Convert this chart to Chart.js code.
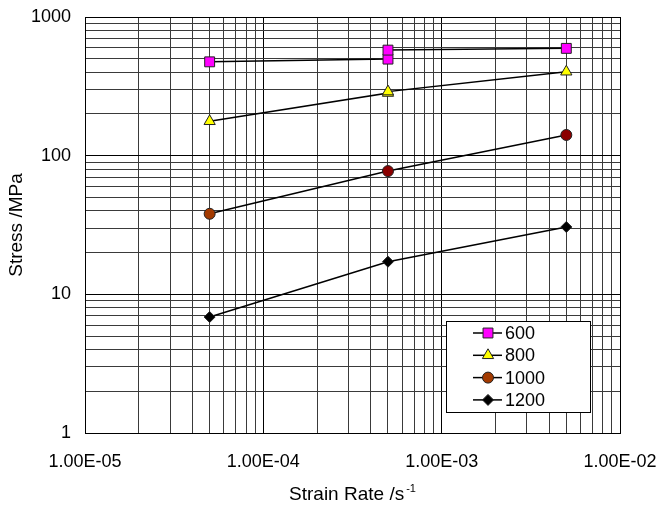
<!DOCTYPE html>
<html>
<head>
<meta charset="utf-8">
<script src="https://cdn.jsdelivr.net/npm/chart.js@4.4.0/dist/chart.umd.min.js"></script>
<style>
html, body { margin: 0; padding: 0; background: #fff; }
#wrap { width: 658px; height: 508px; }
</style>
</head>
<body>
<div id="wrap"><canvas id="stressChart"></canvas></div>
<script>
// legend labels (temperatures)
var temps = ['600', '800', '1000', '1200'];

// strain rate (x) and stress (y)
var rate600 = [5e-5, 5e-4, 5e-4, 5e-3];
var stress600 = [475, 497, 577, 594];
var rate800 = [5e-5, 5e-4, 5e-4, 5e-3];
var stress800 = [177, 283, 290, 403];
var rate1000 = [5e-5, 5e-4, 5e-3];
var stress1000 = [38.1, 77.4, 141];
var rate1200 = [5e-5, 5e-4, 5e-3];
var stress1200 = [6.86, 17.2, 30.6];

// axis tick labels (decades) and the minor steps inside one decade
var xTickLabels = ['1.00E-05', '1.00E-04', '1.00E-03', '1.00E-02'];
var yTickLabels = ['1', '10', '100', '1000'];
var minorSteps = [1, 2, 3, 4, 5, 6, 7, 8, 9];

var FONT = '"Liberation Sans", Arial, sans-serif';

function toPoints(xs, ys) {
    var pts = [];
    for (var i = 0; i < xs.length; i++) {
        pts.push({ x: xs[i], y: ys[i] });
    }
    return pts;
}

// full log grid: 1..9 in every decade
function logTicks(labels) {
    var decades = labels.map(function (l) { return parseFloat(l); });
    var ticks = [];
    for (var d = 0; d < decades.length - 1; d++) {
        minorSteps.forEach(function (m) {
            ticks.push({ value: decades[d] * m, major: m === 1 });
        });
    }
    ticks.push({ value: decades[decades.length - 1], major: true });
    return ticks;
}

function labelFor(labels) {
    var decades = labels.map(function (l) { return parseFloat(l); });
    return function (value) {
        for (var k = 0; k < decades.length; k++) {
            if (Math.abs(value - decades[k]) / decades[k] < 1e-6) return labels[k];
        }
        return '';
    };
}

function gridColor(ctx) {
    return ctx.tick && ctx.tick.major ? '#000' : '#3a3a3a';
}

// legend box with a line through each marker
var legendBox = {
    id: 'legendBox',
    afterDatasetsDraw: function (chart) {
        var ctx = chart.ctx, area = chart.chartArea;
        var w = 144, h = 91;
        var x0 = Math.round(area.right - 30 - w), y0 = Math.round(area.bottom - 21 - h);
        ctx.save();
        ctx.fillStyle = '#fff';
        ctx.fillRect(x0, y0, w, h);
        ctx.strokeStyle = '#000';
        ctx.lineWidth = 1;
        ctx.strokeRect(x0 + 0.5, y0 + 0.5, w, h);
        chart.data.datasets.forEach(function (ds, i) {
            var cy = y0 + 12 + i * 22.3;
            ctx.strokeStyle = '#000';
            ctx.lineWidth = 1.5;
            ctx.beginPath();
            ctx.moveTo(x0 + 27, cy);
            ctx.lineTo(x0 + 56, cy);
            ctx.stroke();
            var bg = Array.isArray(ds.pointBackgroundColor) ? ds.pointBackgroundColor[0] : ds.pointBackgroundColor;
            ctx.fillStyle = bg;
            ctx.strokeStyle = ds.pointBorderColor;
            ctx.lineWidth = 1;
            Chart.helpers.drawPoint(ctx, {
                pointStyle: ds.pointStyle,
                radius: ds.pointRadius,
                borderWidth: 1,
                rotation: 0
            }, x0 + 42, cy);
            ctx.fillStyle = '#000';
            ctx.font = '18px ' + FONT;
            ctx.textBaseline = 'middle';
            ctx.textAlign = 'left';
            ctx.fillText(ds.label, x0 + 59, cy + 1);
        });
        ctx.restore();
    }
};

// x title with a raised "-1"
var xTitle = {
    id: 'xTitle',
    afterDraw: function (chart) {
        var ctx = chart.ctx, area = chart.chartArea;
        var main = 'Strain Rate /s', sup = '-1';
        ctx.save();
        ctx.fillStyle = '#000';
        ctx.textBaseline = 'alphabetic';
        ctx.textAlign = 'left';
        ctx.font = '19px ' + FONT;
        var wMain = ctx.measureText(main).width;
        ctx.font = '11px ' + FONT;
        var wSup = ctx.measureText(sup).width;
        var x = (area.left + area.right) / 2 - (wMain + wSup + 2) / 2;
        var base = 500;
        ctx.font = '19px ' + FONT;
        ctx.fillText(main, x, base);
        ctx.font = '11px ' + FONT;
        ctx.fillText(sup, x + wMain + 2, base - 8);
        ctx.restore();
    }
};

var series = [
    { pts: toPoints(rate600, stress600), style: 'rect', r: 7, bg: ['#ff00ff', '#ff00ff', '#ff00ff', '#ff00ff'] },
    { pts: toPoints(rate800, stress800), style: 'triangle', r: 6.5, bg: ['#ffff00', '#ffff00', '#ffff00', '#ffff00'] },
    { pts: toPoints(rate1000, stress1000), style: 'circle', r: 5.5, bg: ['#a33a00', '#8b0000', '#8b0000'] },
    { pts: toPoints(rate1200, stress1200), style: 'rectRot', r: 5.5, bg: ['#000', '#000', '#000'] }
];

var datasets = series.map(function (s, i) {
    return {
        label: temps[i],
        data: s.pts,
        showLine: true,
        borderColor: '#000',
        borderWidth: 1.5,
        pointStyle: s.style,
        pointRadius: s.r,
        pointHoverRadius: s.r,
        pointBackgroundColor: s.bg,
        pointBorderColor: '#222',
        pointBorderWidth: 1
    };
});

new Chart(document.getElementById('stressChart'), {
    type: 'scatter',
    data: { datasets: datasets },
    plugins: [legendBox, xTitle],
    options: {
        responsive: true,
        maintainAspectRatio: false,
        animation: false,
        layout: { padding: { left: 0, right: 38, top: 17, bottom: 0 } },
        plugins: {
            legend: { display: false },
            tooltip: { enabled: false }
        },
        scales: {
            x: {
                type: 'logarithmic',
                min: 1e-5,
                max: 1e-2,
                afterBuildTicks: function (scale) { scale.ticks = logTicks(xTickLabels); },
                afterFit: function (scale) {
                    scale.height = 75;
                    scale.paddingLeft = 0;
                    scale.paddingRight = 0;
                },
                grid: { color: gridColor, lineWidth: 1, drawTicks: false },
                border: { display: true, color: '#000', width: 1 },
                ticks: {
                    autoSkip: false,
                    maxRotation: 0,
                    padding: 18,
                    color: '#000',
                    font: { family: FONT, size: 18 },
                    callback: labelFor(xTickLabels)
                }
            },
            y: {
                type: 'logarithmic',
                min: 1,
                max: 1000,
                afterBuildTicks: function (scale) { scale.ticks = logTicks(yTickLabels); },
                afterFit: function (scale) {
                    scale.width = 85;
                    scale.paddingTop = 0;
                    scale.paddingBottom = 0;
                },
                grid: { color: gridColor, lineWidth: 1, drawTicks: false },
                border: { display: true, color: '#000', width: 1 },
                title: {
                    display: true,
                    text: 'Stress /MPa',
                    color: '#000',
                    font: { family: FONT, size: 19 },
                    padding: { top: 5, bottom: 0 }
                },
                ticks: {
                    autoSkip: false,
                    padding: 14,
                    color: '#000',
                    font: { family: FONT, size: 18 },
                    callback: labelFor(yTickLabels)
                }
            }
        }
    }
});
</script>
</body>
</html>
